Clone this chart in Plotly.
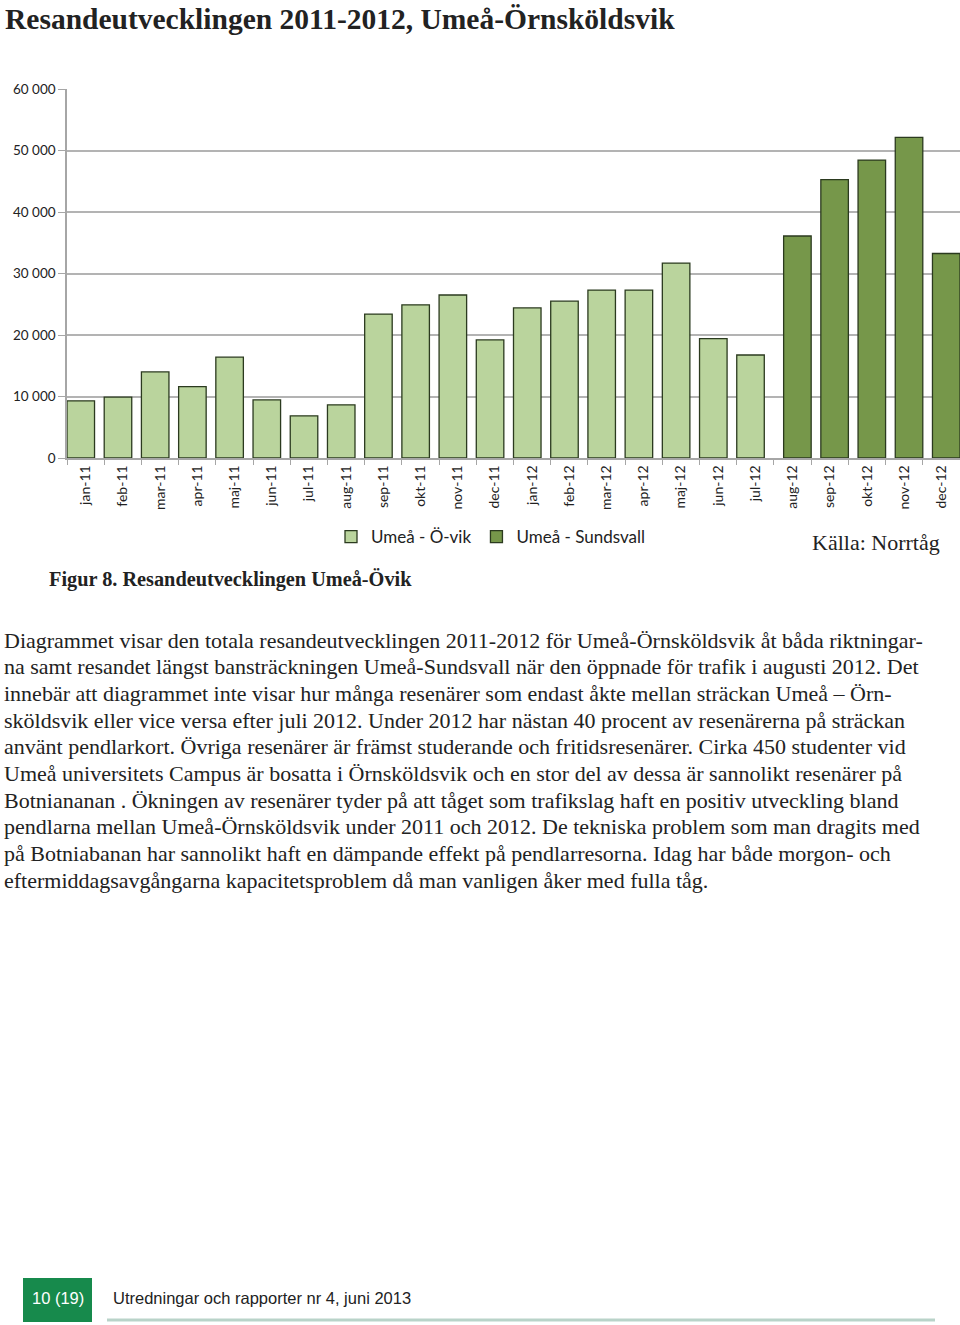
import plotly.graph_objects as go

W, H = 960, 1325

months = [
    "jan-11", "feb-11", "mar-11", "apr-11", "maj-11", "jun-11",
    "jul-11", "aug-11", "sep-11", "okt-11", "nov-11", "dec-11",
    "jan-12", "feb-12", "mar-12", "apr-12", "maj-12", "jun-12",
    "jul-12", "aug-12", "sep-12", "okt-12", "nov-12", "dec-12",
]
# Umeå - Ö-vik runs jan-11 .. jul-12, Umeå - Sundsvall aug-12 .. dec-12
ovik = [
    9300, 9900, 14000, 11600, 16400, 9450, 6850, 8650, 23400, 24900,
    26500, 19200, 24400, 25500, 27300, 27300, 31700, 19400, 16750,
    None, None, None, None, None,
]
sundsvall = [None] * 19 + [36100, 45250, 48450, 52150, 33250]

y_ticks = [0, 10000, 20000, 30000, 40000, 50000, 60000]
y_tick_text = ["0", "10 000", "20 000", "30 000", "40 000", "50 000", "60 000"]

body_lines = [
    "Diagrammet visar den totala resandeutvecklingen 2011-2012 för Umeå-Örnsköldsvik åt båda riktningar-",
    "na samt resandet längst bansträckningen Umeå-Sundsvall när den öppnade för trafik i augusti 2012. Det",
    "innebär att diagrammet inte visar hur många resenärer som endast åkte mellan sträckan Umeå – Örn-",
    "sköldsvik eller vice versa efter juli 2012. Under 2012 har nästan 40 procent av resenärerna på sträckan",
    "använt pendlarkort. Övriga resenärer är främst studerande och fritidsresenärer. Cirka 450 studenter vid",
    "Umeå universitets Campus är bosatta i Örnsköldsvik och en stor del av dessa är sannolikt resenärer på",
    "Botniananan . Ökningen av resenärer tyder på att tåget som trafikslag haft en positiv utveckling bland",
    "pendlarna mellan Umeå-Örnsköldsvik under 2011 och 2012. De tekniska problem som man dragits med",
    "på Botniabanan har sannolikt haft en dämpande effekt på pendlarresorna. Idag har både morgon- och",
    "eftermiddagsavgångarna kapacitetsproblem då man vanligen åker med fulla tåg.",
]

SERIF = "Liberation Serif, Times New Roman, serif"
SANS = "Lato, Open Sans, sans-serif"
NARROW = "Liberation Sans Narrow, Arial Narrow, Liberation Sans, sans-serif"


def px(x):
    return x / W


def py(y):
    return 1 - y / H


BAR_W = 0.74  # Excel-style clustered bars that overlap inside each month

fig = go.Figure()
fig.add_trace(go.Bar(
    x=months, y=ovik, name="Umeå - Ö-vik",
    width=BAR_W, offset=-0.5,
    marker=dict(color="#bad49d", line=dict(color="#2b3a1f", width=1.3)),
))
fig.add_trace(go.Bar(
    x=months, y=sundsvall, name="Umeå - Sundsvall",
    width=BAR_W, offset=0.5 - BAR_W,
    marker=dict(color="#76974a", line=dict(color="#2b3a1f", width=1.3)),
))

fig.update_layout(
    width=W, height=H,
    margin=dict(l=0, r=0, t=0, b=0),
    paper_bgcolor="white", plot_bgcolor="white",
    barmode="overlay",
    font=dict(family=SANS, color="#222"),
    showlegend=True,
    legend=dict(
        orientation="h", x=px(331), y=py(537), xanchor="left", yanchor="middle",
        font=dict(family=SANS, size=17, color="#222"),
        traceorder="normal", bgcolor="rgba(0,0,0,0)",
    ),
    xaxis=dict(
        domain=[px(67), 1], type="category", categoryorder="array", categoryarray=months,
        tickangle=-90, tickfont=dict(family=SANS, size=14, color="#222"),
        showline=True, linecolor="#a6a6a6", linewidth=1.5,
        ticks="outside", tickson="boundaries", ticklen=5, tickcolor="#a6a6a6",
        showgrid=False, automargin=False,
    ),
    yaxis=dict(
        domain=[py(458), py(89)], range=[0, 60000],
        tickvals=y_ticks, ticktext=y_tick_text,
        tickfont=dict(family=SANS, size=13.5, color="#222"),
        showline=True, linecolor="#a6a6a6", linewidth=1.5,
        ticks="outside", ticklen=7, tickcolor="#a6a6a6",
        showgrid=True, gridcolor="#b3b3b3", gridwidth=1.5,
        zeroline=False, automargin=False,
    ),
)

annotations = [
    dict(text="<b>Resandeutvecklingen 2011-2012, Umeå-Örnsköldsvik</b>",
         x=px(3), y=py(19), xanchor="left", yanchor="middle",
         font=dict(family=SERIF, size=29.5, color="#222")),
    dict(text="Källa: Norrtåg", x=px(810), y=py(542), xanchor="left", yanchor="middle",
         font=dict(family=SERIF, size=22, color="#222")),
    dict(text="<b>Figur 8. Resandeutvecklingen Umeå-Övik</b>",
         x=px(47), y=py(579), xanchor="left", yanchor="middle",
         font=dict(family=SERIF, size=20.3, color="#222")),
    dict(text="10 (19)", x=px(58), y=py(1298), xanchor="center", yanchor="middle",
         font=dict(family=NARROW, size=16.5, color="white")),
    dict(text="Utredningar och rapporter nr 4, juni 2013", x=px(111), y=py(1298),
         xanchor="left", yanchor="middle",
         font=dict(family=NARROW, size=16.5, color="#222")),
]
line_y0, line_step = 640, 26.7
for i, line in enumerate(body_lines):
    annotations.append(dict(
        text=line, x=px(2), y=py(line_y0 + i * line_step), xanchor="left", yanchor="middle",
        font=dict(family=SERIF, size=22, color="#222"),
    ))
for a in annotations:
    a.update(xref="paper", yref="paper", showarrow=False)
fig.update_layout(annotations=annotations)

fig.update_layout(shapes=[
    dict(type="rect", xref="paper", yref="paper",
         x0=px(23), x1=px(92), y0=py(1322), y1=py(1278),
         fillcolor="#178a4c", line=dict(width=0), layer="below"),
    dict(type="line", xref="paper", yref="paper",
         x0=px(107), x1=px(935), y0=py(1320), y1=py(1320),
         line=dict(color="#b9d3c9", width=3)),
])

fig.write_html(
    "out.html",
    config={"displayModeBar": False},
    post_script="document.body.style.margin = '0';",
)
